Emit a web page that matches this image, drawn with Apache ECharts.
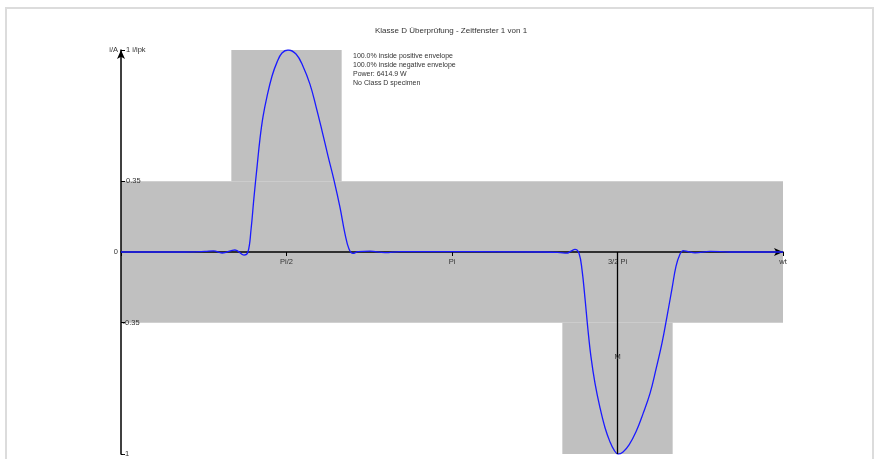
<!DOCTYPE html>
<html>
<head>
<meta charset="utf-8">
<script src="https://cdn.jsdelivr.net/npm/echarts@6/dist/echarts.min.js"></script>
<style>
  html, body { margin: 0; padding: 0; background: #fff; }
  #chart { width: 879px; height: 459px; }
</style>
</head>
<body>
<div id="chart"></div>
<script>
const PI = Math.PI;

// measured current, x in rad (wt), y in i/ipk
const waveX = [0, 0.560, 0.797, 0.878, 0.959, 1.082, 1.167, 1.205, 1.234, 1.262, 1.291, 1.319, 1.348,
  1.386, 1.433, 1.481, 1.528, 1.585, 1.661, 1.727, 1.794, 1.851, 1.908, 1.965, 2.022, 2.079, 2.126,
  2.164, 2.202, 2.250, 2.363, 2.506, 2.648, 4.024, 4.167, 4.230, 4.271, 4.309, 4.347, 4.376, 4.404,
  4.433, 4.461, 4.499, 4.546, 4.594, 4.641, 4.679, 4.717, 4.765, 4.822, 4.888, 4.955, 5.021, 5.078,
  5.135, 5.182, 5.230, 5.268, 5.306, 5.334, 5.382, 5.448, 5.590, 5.780, 6.283];
const waveY = [0, 0, 0.003, 0.006, -0.005, 0.010, -0.015, 0.0, 0.11, 0.27, 0.42, 0.56, 0.67,
  0.77, 0.87, 0.94, 0.985, 1.0, 0.98, 0.92, 0.83, 0.72, 0.60, 0.475, 0.355, 0.22, 0.09,
  0.015, -0.007, 0.002, 0.004, -0.003, 0.002, 0, -0.003, -0.006, 0.004, 0.013, -0.006, -0.09, -0.23,
  -0.39, -0.52, -0.65, -0.77, -0.87, -0.94, -0.98, -1.0, -0.99, -0.955, -0.89, -0.80, -0.70, -0.58,
  -0.45, -0.32, -0.18, -0.07, -0.01, 0.007, 0.002, -0.004, 0.003, 0, 0];

// class D envelope: [x0, x1, y0, y1]
const envelope = [
  [0, 2 * PI, -0.35, 0.35],
  [PI / 3, 2 * PI / 3, 0.35, 1],
  [4 * PI / 3, 5 * PI / 3, -1, -0.35]
];

const xTickNames = ['', 'Pi/2', 'Pi', '3/2 Pi', 'wt'];
const yTicksUpper = [0.35, 1];
const yTicksLower = [-0.35, -1];
const infoLines = [
  '100.0% inside positive envelope',
  '100.0% inside negative envelope',
  'Power: 6414.9 W',
  'No Class D specimen'
];
const markerX = 3 * PI / 2;

const font = 'Liberation Sans, Arial, sans-serif';
const chart = echarts.init(document.getElementById('chart'));

const waveData = waveX.map((x, i) => [x, waveY[i]]);
const areas = envelope.map(e => [{ coord: [e[0], e[2]] }, { coord: [e[1], e[3]] }]);

const gridTop = 50, gridBottom = 5, height = 459;
const zeroOffset = -(height - gridTop - gridBottom) / 2;

const yBase = {
  type: 'value', min: -1, max: 1, position: 'left', z: 2,
  splitLine: { show: false },
  axisLine: { show: false },
  axisTick: { show: false }
};

const option = {
  animation: false,
  backgroundColor: '#fff',
  title: {
    text: 'Klasse D Überprüfung - Zeitfenster 1 von 1',
    left: 370, top: 22,
    textStyle: { fontFamily: font, fontSize: 8, fontWeight: 'normal', color: '#333' }
  },
  grid: { left: 121, right: 96, top: gridTop, bottom: gridBottom, containLabel: false, outerBoundsMode: 'none' },
  graphic: [
    {
      type: 'rect', silent: true, z: 100,
      shape: { x: 6, y: 8, width: 867, height: 470 },
      style: { fill: 'none', stroke: '#dcdcdc', lineWidth: 2 }
    },
    {
      type: 'text', left: 353, top: 51, z: 100,
      style: { text: infoLines.join('\n'), font: '7px ' + font, lineHeight: 9.3, fill: '#333' }
    }
  ],
  xAxis: {
    type: 'value', min: 0, max: 2 * PI, interval: PI / 2, z: 2,
    position: 'bottom', offset: zeroOffset,
    splitLine: { show: false },
    axisLine: { onZero: false, symbol: ['none', 'arrow'], symbolSize: [6, 9],
      lineStyle: { color: '#000', width: 1.5 } },
    axisTick: { show: true, length: 4, lineStyle: { color: '#000' } },
    axisLabel: {
      margin: 6, fontFamily: font, fontSize: 7.5, color: '#333',
      formatter: v => xTickNames[Math.round(v / (PI / 2))] || ''
    }
  },
  yAxis: [
    Object.assign({}, yBase, {
      axisLine: { show: true, onZero: false, symbol: ['none', 'arrow'], symbolSize: [6, 9],
        lineStyle: { color: '#000', width: 1.5 } },
      axisTick: { show: true, inside: true, length: 4, customValues: yTicksUpper.concat(yTicksLower),
        lineStyle: { color: '#000' } },
      axisLabel: { inside: true, margin: 5, customValues: yTicksUpper,
        fontFamily: font, fontSize: 7.5, color: '#333',
        formatter: v => v === 1 ? '1 i/ipk' : String(v) }
    }),
    Object.assign({}, yBase, {
      axisLabel: { inside: true, margin: 1.5, customValues: yTicksLower,
        fontFamily: font, fontSize: 7.5, color: '#333', formatter: v => String(v) }
    }),
    Object.assign({}, yBase, {
      axisLabel: { inside: false, margin: 3, customValues: [0, 1],
        fontFamily: font, fontSize: 7.5, color: '#333',
        formatter: v => v === 1 ? 'i/A' : '0' }
    })
  ],
  series: [
    {
      name: 'envelope', type: 'line', data: [], z: 1, silent: true,
      markArea: { silent: true, itemStyle: { color: '#c0c0c0', opacity: 1 }, data: areas }
    },
    {
      name: 'i', type: 'line', data: waveData, z: 3, smooth: 0.4,
      showSymbol: false, symbol: 'none',
      lineStyle: { color: '#1a1aff', width: 1.3 },
      markLine: {
        silent: true, symbol: 'none', label: { show: false },
        lineStyle: { color: '#000', width: 1.3, type: 'solid' },
        data: [[{ coord: [markerX, 0] }, { coord: [markerX, -1] }]]
      },
      markPoint: {
        silent: true, symbol: 'rect', symbolSize: 0,
        label: { show: true, formatter: 'M', position: 'inside',
          fontFamily: font, fontSize: 7.5, color: '#333' },
        data: [{ coord: [markerX, -0.52] }]
      }
    }
  ]
};

chart.setOption(option);
</script>
</body>
</html>
